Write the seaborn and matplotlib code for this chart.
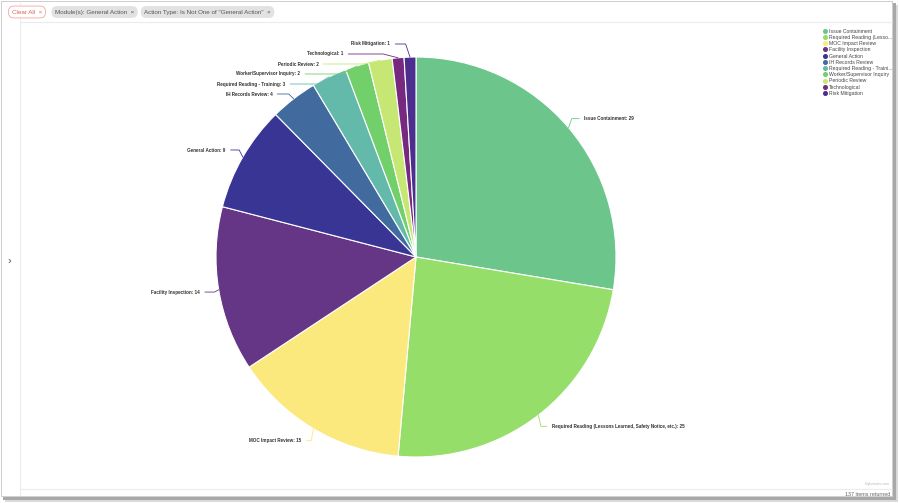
import numpy as np
import matplotlib
matplotlib.use("Agg")
import matplotlib.pyplot as plt
from matplotlib.lines import Line2D
from matplotlib.patches import Rectangle
import seaborn as sns

# data
actions = [
    "Issue Containment",
    "Required Reading (Lessons Learned, Safety Notice, etc.)",
    "MOC Impact Review",
    "Facility Inspection",
    "General Action",
    "IH Records Review",
    "Required Reading - Training",
    "Worker/Supervisor Inquiry",
    "Periodic Review",
    "Technological",
    "Risk Mitigation",
]
counts = [29, 25, 15, 14, 9, 4, 3, 2, 2, 1, 1]
legend_names = [
    "Issue Containment",
    "Required Reading (Lesso...",
    "MOC Impact Review",
    "Facility Inspection",
    "General Action",
    "IH Records Review",
    "Required Reading - Traini...",
    "Worker/Supervisor Inquiry",
    "Periodic Review",
    "Technological",
    "Risk Mitigation",
]
slice_colors = [
    "#6cc68c", "#95de6a", "#fce97e", "#653685", "#383594", "#416b9f",
    "#63b9aa", "#72d06b", "#c6e774", "#76297f", "#4b2e8e",
]
filters = ["Module(s): General Action  \u00d7", 'Action Type: Is Not One of "General Action"  \u00d7']

sns.set_theme(style="white")
plt.rcParams["font.family"] = ["Liberation Sans", "DejaVu Sans"]
palette = sns.color_palette(slice_colors)

W, H = 899, 503
fig = plt.figure(figsize=(W / 100, H / 100), dpi=100)
fig.patch.set_facecolor("white")

# ---- page chrome, pixel coordinates ----
chrome = fig.add_axes([0, 0, 1, 1], zorder=0)
chrome.set_xlim(0, W)
chrome.set_ylim(H, 0)
chrome.axis("off")
chrome.add_patch(Rectangle((5, 5), W - 6, H - 6, fc="#dadada", ec="none"))
chrome.add_patch(Rectangle((3, 3), W - 6, H - 6, fc="#a8a8a8", ec="none"))
chrome.add_patch(Rectangle((1, 1), W - 7, H - 7, fc="#cfcfcf", ec="none"))
chrome.add_patch(Rectangle((2, 2), W - 9, H - 9, fc="white", ec="none"))
chrome.plot([20, 20], [3, H - 8], color="#ececec", lw=0.8)
chrome.plot([20, W - 7], [22, 22], color="#ececec", lw=0.8)
chrome.plot([20, W - 7], [489, 489], color="#ececec", lw=0.8)
chrome.text(9, 261, "\u203a", fontsize=8, color="#555555", ha="center", va="center")
chrome.text(27, 12, "Clear All  \u00d7", fontsize=4.5, color="#e0605a", ha="center", va="center",
            bbox=dict(boxstyle="round,pad=0.55,rounding_size=0.9", fc="white", ec="#f2a6a2", lw=0.6))
chip_x = 55
for label in filters:
    t = chrome.text(chip_x, 12, label, fontsize=4.5, color="#555555", ha="left", va="center",
                    bbox=dict(boxstyle="round,pad=0.55,rounding_size=0.9", fc="#e2e2e2", ec="none"))
    fig.canvas.draw()
    bb = t.get_window_extent()
    chip_x += bb.width + 10
chrome.text(890, 484, "Highcharts.com", fontsize=2.6, color="#bbbbbb", ha="right", va="center")
chrome.text(890, 494, "137 items returned", fontsize=3.9, color="#666666", ha="right", va="center")

# ---- pie, 1 unit = 200 px, centre at (416, 257) ----
cx, cy, r_px = 416, 257, 200
ax = fig.add_axes([0, 0, 1, 1], zorder=1)
ax.patch.set_alpha(0)
ax.pie(counts, colors=palette, startangle=90, counterclock=False, radius=1,
       wedgeprops=dict(edgecolor="white", linewidth=0.8))
ax.set_aspect("auto")
ax.set_xlim(-cx / r_px, (W - cx) / r_px)
ax.set_ylim(-(H - cy) / r_px, cy / r_px)
ax.axis("off")

# data labels with crooked connectors (Highcharts style)
vals = np.array(counts, dtype=float)
mids = (np.cumsum(vals) - vals / 2) / vals.sum() * 2 * np.pi
r_lab = 1.07
top, gap = (cy - 44) / r_px, 10 / r_px
nat_y = r_lab * np.cos(mids)
side = np.where(np.sin(mids) >= 0, 1, -1)
lab_y = nat_y.copy()
for s in (1, -1):
    idx = [i for i in np.argsort(-nat_y) if side[i] == s]
    prev = top + gap
    for i in idx:
        lab_y[i] = min(nat_y[i], top, prev - gap)
        prev = lab_y[i]
for i, name in enumerate(actions):
    s = side[i]
    y = lab_y[i]
    x = s * np.sqrt(max(r_lab ** 2 - y ** 2, 0))
    ex, ey = np.sin(mids[i]), np.cos(mids[i])
    bx = x + 0.7 * (ex - x)
    ax.plot([x, bx, ex], [y, y, ey], color=palette[i], lw=0.6, clip_on=False)
    ax.text(x + s * 0.025, y, f"{name}: {counts[i]}", fontsize=3.3, fontweight="bold",
            color="#333333", ha="left" if s > 0 else "right", va="center")

# legend
handles = [Line2D([], [], marker="o", ls="", ms=2.6, color=c) for c in palette]
fig.legend(handles, legend_names, loc="upper left", bbox_to_anchor=(821 / W, 1 - 26 / H),
           frameon=False, fontsize=3.7, labelcolor="#444444", handlelength=0.6,
           handletextpad=0.5, labelspacing=0.24, borderpad=0)

fig.savefig("out.png", dpi=100, facecolor="white")
